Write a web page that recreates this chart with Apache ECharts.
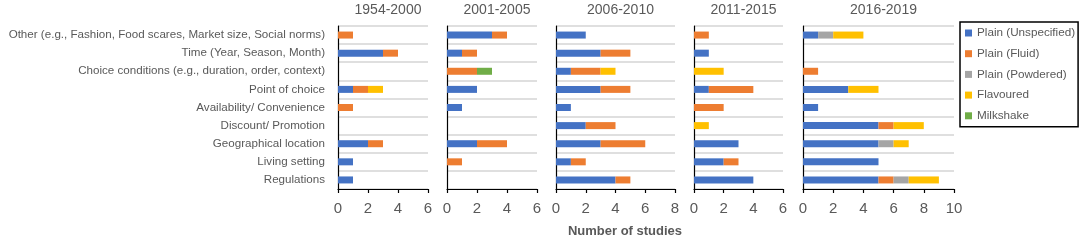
<!DOCTYPE html>
<html>
<head>
<meta charset="utf-8">
<script src="https://cdn.jsdelivr.net/npm/echarts@6/dist/echarts.min.js"></script>
<style>
html,body{margin:0;padding:0;background:#fff;}
#chart{width:1084px;height:243px;}
</style>
</head>
<body>
<div id="chart"></div>
<script>
// Categories (top to bottom)
const categories = [
  'Other (e.g., Fashion, Food scares, Market size, Social norms)',
  'Time (Year, Season, Month)',
  'Choice conditions (e.g., duration, order, context)',
  'Point of choice',
  'Availability/ Convenience',
  'Discount/ Promotion',
  'Geographical location',
  'Living setting',
  'Regulations'
];
const periods = ['1954-2000', '2001-2005', '2006-2010', '2011-2015', '2016-2019'];
const axisMax = [6, 6, 8, 6, 10];
const seriesNames = ['Plain (Unspecified)', 'Plain (Fluid)', 'Plain (Powdered)', 'Flavoured', 'Milkshake'];

// values per period, in category order
const plainUnspecified = [
  [0, 3, 0, 1, 0, 0, 2, 1, 1],
  [3, 1, 0, 2, 1, 0, 2, 0, 0],
  [2, 3, 1, 3, 1, 2, 3, 1, 4],
  [0, 1, 0, 1, 0, 0, 3, 2, 4],
  [1, 0, 0, 3, 1, 5, 5, 5, 5]
];
const plainFluid = [
  [1, 1, 0, 1, 1, 0, 1, 0, 0],
  [1, 1, 2, 0, 0, 0, 2, 1, 0],
  [0, 2, 2, 2, 0, 2, 3, 1, 1],
  [1, 0, 0, 3, 2, 0, 0, 1, 0],
  [0, 0, 1, 0, 0, 1, 0, 0, 1]
];
const plainPowdered = [
  [0, 0, 0, 0, 0, 0, 0, 0, 0],
  [0, 0, 0, 0, 0, 0, 0, 0, 0],
  [0, 0, 0, 0, 0, 0, 0, 0, 0],
  [0, 0, 0, 0, 0, 0, 0, 0, 0],
  [1, 0, 0, 0, 0, 0, 1, 0, 1]
];
const flavoured = [
  [0, 0, 0, 1, 0, 0, 0, 0, 0],
  [0, 0, 0, 0, 0, 0, 0, 0, 0],
  [0, 0, 1, 0, 0, 0, 0, 0, 0],
  [0, 0, 2, 0, 0, 1, 0, 0, 0],
  [2, 0, 0, 2, 0, 2, 1, 0, 2]
];
const milkshake = [
  [0, 0, 0, 0, 0, 0, 0, 0, 0],
  [0, 0, 1, 0, 0, 0, 0, 0, 0],
  [0, 0, 0, 0, 0, 0, 0, 0, 0],
  [0, 0, 0, 0, 0, 0, 0, 0, 0],
  [0, 0, 0, 0, 0, 0, 0, 0, 0]
];
const seriesValues = [plainUnspecified, plainFluid, plainPowdered, flavoured, milkshake];
const colors = ['#4472C4', '#ED7D31', '#A5A5A5', '#FFC000', '#70AD47'];

// layout
const gridLeft = [338, 447, 556, 694, 803];
const gridWidth = [90, 90, 119, 89, 151];
const gridTop = 26, gridHeight = 163;
const FONT = 'Liberation Sans';
const GREY = '#595959';

const grids = [], xAxes = [], yAxes = [], titles = [], series = [];
periods.forEach((p, i) => {
  grids.push({left: gridLeft[i], width: gridWidth[i], top: gridTop, height: gridHeight, containLabel: false});
  xAxes.push({
    type: 'value', gridIndex: i, min: 0, max: axisMax[i], interval: 2,
    splitLine: {show: false},
    axisLine: {show: true, lineStyle: {color: '#000', width: 1.2}},
    axisTick: {show: true, length: 4, inside: false, lineStyle: {color: '#000', width: 1.2}},
    axisLabel: {color: GREY, fontSize: 15, fontFamily: FONT, margin: 12}
  });
  yAxes.push({
    type: 'category', gridIndex: i, data: categories, inverse: true,
    axisLine: {show: true, lineStyle: {color: '#000', width: 1.2}},
    axisTick: {show: false},
    splitLine: {show: true, lineStyle: {color: '#d4d4d4', width: 1.5}},
    axisLabel: {show: i === 0, color: GREY, fontSize: 11.6, fontFamily: FONT, margin: 13}
  });
  titles.push({
    text: p, left: gridLeft[i] + gridWidth[i] / 2, top: -2, textAlign: 'center',
    textStyle: {color: GREY, fontSize: 14, fontWeight: 'normal', fontFamily: FONT}
  });
  seriesNames.forEach((name, s) => {
    series.push({
      type: 'bar', name: name, stack: 'p' + i, xAxisIndex: i, yAxisIndex: i,
      barWidth: 7, data: seriesValues[s][i],
      itemStyle: {color: colors[s]}
    });
  });
});
titles.push({
  text: 'Number of studies', left: 620, top: 220, textAlign: 'center',
  textStyle: {color: GREY, fontSize: 13, fontWeight: 'bold', fontFamily: FONT}
});

const chart = echarts.init(document.getElementById('chart'), null, {renderer: 'canvas'});
chart.setOption({
  animation: false,
  color: colors,
  title: titles,
  grid: grids,
  xAxis: xAxes,
  yAxis: yAxes,
  legend: {
    data: seriesNames, orient: 'vertical', left: 960, top: 22,
    icon: 'rect', itemWidth: 7, itemHeight: 7, itemGap: 6.7,
    borderColor: '#000', borderWidth: 1.5, padding: [4, 3, 4, 5],
    textStyle: {color: GREY, fontSize: 11.7, fontFamily: FONT, lineHeight: 14}
  },
  series: series
});
</script>
</body>
</html>
